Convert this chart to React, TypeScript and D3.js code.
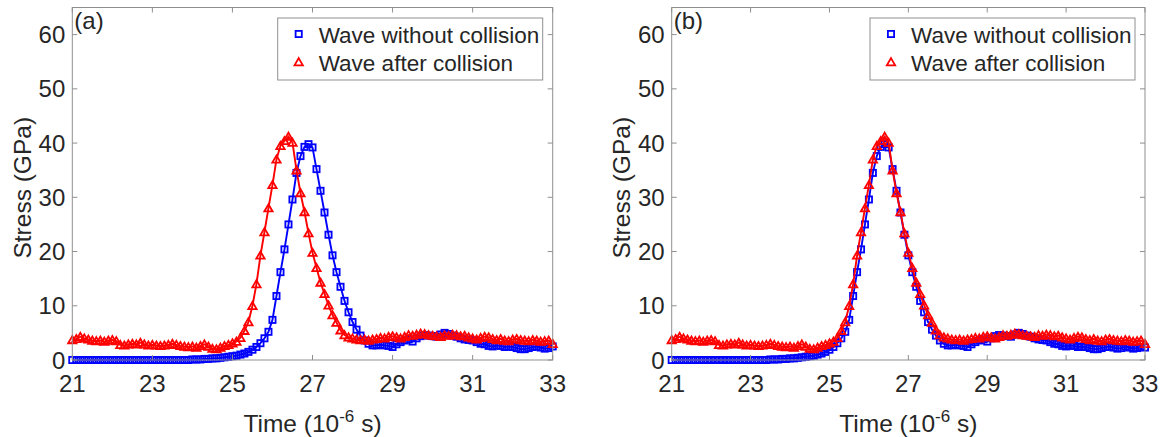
import React from "react";
import * as d3 from "d3";

const TIME = [
  21.0, 21.1, 21.2, 21.3, 21.4, 21.5, 21.6, 21.7, 21.8, 21.9,
  22.0, 22.1, 22.2, 22.3, 22.4, 22.5, 22.6, 22.7, 22.8, 22.9,
  23.0, 23.1, 23.2, 23.3, 23.4, 23.5, 23.6, 23.7, 23.8, 23.9,
  24.0, 24.1, 24.2, 24.3, 24.4, 24.5, 24.6, 24.7, 24.8, 24.9,
  25.0, 25.1, 25.2, 25.3, 25.4, 25.5, 25.6, 25.7, 25.8, 25.9,
  26.0, 26.1, 26.2, 26.3, 26.4, 26.5, 26.6, 26.7, 26.8, 26.9,
  27.0, 27.1, 27.2, 27.3, 27.4, 27.5, 27.6, 27.7, 27.8, 27.9,
  28.0, 28.1, 28.2, 28.3, 28.4, 28.5, 28.6, 28.7, 28.8, 28.9,
  29.0, 29.1, 29.2, 29.3, 29.4, 29.5, 29.6, 29.7, 29.8, 29.9,
  30.0, 30.1, 30.2, 30.3, 30.4, 30.5, 30.6, 30.7, 30.8, 30.9,
  31.0, 31.1, 31.2, 31.3, 31.4, 31.5, 31.6, 31.7, 31.8, 31.9,
  32.0, 32.1, 32.2, 32.3, 32.4, 32.5, 32.6, 32.7, 32.8, 32.9,
  33.0,
];

// Panel (a): wave without collision
const BLUE_A = [
  0, 0, 0, 0, 0, 0, 0, 0, 0, 0,
  0, 0, 0, 0, 0, 0, 0, 0, 0, 0,
  0, 0, 0, 0, 0, 0, 0, 0, 0, 0,
  0.1, 0.1, 0.1, 0.2, 0.2, 0.3, 0.3, 0.4, 0.5, 0.6,
  0.7, 0.8, 1.0, 1.2, 1.5, 1.9, 2.4, 3.1, 4.0, 5.2,
  7.4, 11.8, 16.2, 20.4, 25.0, 29.6, 34.5, 37.6, 39.3, 39.8,
  39.2, 35.2, 31.2, 27.2, 23.1, 19.3, 16.2, 13.5, 10.9, 8.8,
  7.0, 5.6, 4.5, 3.6, 3.0, 2.7, 2.7, 2.8, 2.7, 2.6,
  2.4, 2.9, 3.3, 3.6, 3.8, 3.4, 4.0, 4.4, 4.6, 4.5,
  4.4, 4.3, 4.7, 5.0, 4.8, 4.5, 4.3, 4.0, 3.8, 3.7,
  3.6, 3.3, 3.0, 2.9, 2.6, 2.5, 2.7, 2.6, 2.4, 2.5,
  2.4, 2.2, 2.0, 2.0, 2.2, 2.4, 2.5, 2.3, 2.1, 2.2,
  2.5,
];

// Wave after collision (same in both panels)
const RED = [
  3.7, 3.9, 4.3, 4.0, 3.8, 3.6, 3.5, 3.6, 3.4, 3.6,
  3.7, 3.5, 2.8, 2.7, 2.9, 3.0, 2.9, 3.2, 2.9, 2.7,
  2.8, 2.7, 2.6, 2.7, 2.8, 3.0, 2.8, 2.6, 2.5, 2.4,
  2.5, 2.3, 2.6, 2.9, 2.5, 2.1, 2.0, 2.3, 2.6, 2.8,
  3.1, 3.4, 4.1, 5.4, 7.0, 10.0, 14.0, 19.3, 23.6, 28.0,
  32.3, 37.0, 39.5, 40.4, 41.2, 40.1, 35.0, 30.8, 27.3, 23.4,
  19.8, 17.0, 14.3, 12.2, 10.1, 8.3, 6.9, 5.5, 4.6, 4.2,
  4.0, 3.8, 3.7, 3.8, 3.6, 3.8, 3.9, 4.1, 4.0, 4.3,
  4.4, 4.2, 4.0, 4.3, 4.6, 4.5, 4.7, 4.9, 4.8, 4.6,
  4.5, 4.4, 4.3, 4.6, 4.5, 4.7, 4.6, 4.4, 4.5, 4.2,
  4.0, 3.8, 4.1, 4.3, 4.2, 3.9, 3.7, 3.9, 3.6, 3.5,
  3.8, 3.9, 3.7, 3.6, 3.5, 3.7, 3.6, 3.4, 3.5, 3.6,
  3.0,
];

// Panel (b): wave without collision, aligned
const BLUE_B = [
  0, 0, 0, 0, 0, 0, 0, 0, 0, 0,
  0, 0, 0, 0, 0, 0, 0, 0, 0, 0,
  0, 0, 0, 0, 0, 0.1, 0.1, 0.1, 0.2, 0.2,
  0.3, 0.3, 0.4, 0.5, 0.6, 0.7, 0.8, 1.0, 1.2, 1.5,
  1.9, 2.4, 3.1, 4.0, 5.2, 7.4, 11.8, 16.2, 20.4, 25.0,
  29.6, 34.5, 37.6, 39.3, 39.8, 39.2, 35.2, 31.2, 27.2, 23.1,
  19.3, 16.2, 13.5, 10.9, 8.8, 7.0, 5.6, 4.5, 3.6, 3.0,
  2.7, 2.7, 2.8, 2.7, 2.6, 2.4, 2.9, 3.3, 3.6, 3.8,
  3.4, 4.0, 4.4, 4.6, 4.5, 4.4, 4.3, 4.7, 5.0, 4.8,
  4.5, 4.3, 4.0, 3.8, 3.7, 3.6, 3.3, 3.0, 2.9, 2.6,
  2.5, 2.7, 2.6, 2.4, 2.5, 2.4, 2.2, 2.0, 2.0, 2.2,
  2.4, 2.5, 2.3, 2.1, 2.2, 2.5, 2.3, 2.1, 2.2, 2.4,
  2.3,
];

const X_TICKS = [21, 23, 25, 27, 29, 31, 33];
const Y_TICKS = [0, 10, 20, 30, 40, 50, 60];
const LEGEND_LABELS = ["Wave without collision", "Wave after collision"];
const PANEL_LABELS = ["(a)", "(b)"];

const FONT = "'Liberation Sans', Arial, Helvetica, sans-serif";
const TEXT = "#262626";
const AXIS = "#8f8f8f";
const BLUE = "#0000ff";
const RED_C = "#ff0000";

type PanelProps = {
  x0: number;
  x1: number;
  label: string;
  blue: number[];
  red: number[];
};

function Panel({ x0, x1, label, blue, red }: PanelProps) {
  const top = 7.5;
  const bottom = 360;
  const x = d3.scaleLinear().domain([21, 33]).range([x0, x1]);
  const y = d3.scaleLinear().domain([0, 65]).range([bottom, top]);
  const line = d3
    .line<number>()
    .x((_, i) => x(TIME[i]))
    .y((d) => y(d));
  const tri = d3.symbol().type(d3.symbolTriangle).size(30)();
  const sq = 6.2;
  const mw = 1.8;
  const tickLen = 5;
  const legW = 265;
  const legR = x1 - 10;
  const legL = legR - legW;

  return (
    <g>
      <path d={line(blue) || ""} fill="none" stroke={BLUE} strokeWidth={1.9} />
      {blue.map((v, i) => (
        <rect
          key={"b" + i}
          x={x(TIME[i]) - sq / 2}
          y={y(v) - sq / 2}
          width={sq}
          height={sq}
          fill="none"
          stroke={BLUE}
          strokeWidth={mw}
        />
      ))}
      <path d={line(red) || ""} fill="none" stroke={RED_C} strokeWidth={1.9} />
      {red.map((v, i) => (
        <path
          key={"r" + i}
          d={tri}
          transform={`translate(${x(TIME[i])},${y(v) + 0.9})`}
          fill="none"
          stroke={RED_C}
          strokeWidth={mw}
        />
      ))}

      <rect x={x0} y={top} width={x1 - x0} height={bottom - top} fill="none" stroke={AXIS} strokeWidth={1} />
      {X_TICKS.map((t) => (
        <g key={"xt" + t}>
          <line x1={x(t)} x2={x(t)} y1={bottom} y2={bottom - tickLen} stroke={AXIS} />
          <line x1={x(t)} x2={x(t)} y1={top} y2={top + tickLen} stroke={AXIS} />
          <text x={x(t)} y={392} textAnchor="middle" fontSize={24} fill={TEXT} fontFamily={FONT}>
            {t}
          </text>
        </g>
      ))}
      {Y_TICKS.map((t) => (
        <g key={"yt" + t}>
          <line x1={x0} x2={x0 + tickLen} y1={y(t)} y2={y(t)} stroke={AXIS} />
          <line x1={x1} x2={x1 - tickLen} y1={y(t)} y2={y(t)} stroke={AXIS} />
          <text x={x0 - 7} y={y(t) + 8.5} textAnchor="end" fontSize={24} fill={TEXT} fontFamily={FONT}>
            {t}
          </text>
        </g>
      ))}

      <text x={x0 + 2} y={29} fontSize={24} fill={TEXT} fontFamily={FONT}>
        {label}
      </text>

      <text x={(x0 + x1) / 2} y={432} textAnchor="middle" fontSize={24.5} fill={TEXT} fontFamily={FONT}>
        Time (10
        <tspan fontSize={17} dy={-10}>-6</tspan>
        <tspan dy={10}> s)</tspan>
      </text>
      <text
        transform={`translate(${x0 - 50},${(top + bottom) / 2 + 4}) rotate(-90)`}
        textAnchor="middle"
        fontSize={24.5}
        fill={TEXT}
        fontFamily={FONT}
        dominantBaseline="central"
      >
        Stress (GPa)
      </text>

      <rect x={legL} y={18} width={legW} height={62} fill="#fff" stroke={AXIS} strokeWidth={1} />
      <rect x={legL + 21 - sq / 2} y={34 - sq / 2} width={sq} height={sq} fill="none" stroke={BLUE} strokeWidth={mw} />
      <path d={tri} transform={`translate(${legL + 21},${62 + 0.9})`} fill="none" stroke={RED_C} strokeWidth={mw} />
      <text x={legL + 41} y={43} fontSize={22.5} fill={TEXT} fontFamily={FONT}>
        {LEGEND_LABELS[0]}
      </text>
      <text x={legL + 41} y={71} fontSize={22.5} fill={TEXT} fontFamily={FONT}>
        {LEGEND_LABELS[1]}
      </text>
    </g>
  );
}

export default function App() {
  return (
    <svg
      width={1170}
      height={437}
      style={{ position: "absolute", left: 0, top: 0, background: "#fff" }}
    >
      <rect x={0} y={0} width={1170} height={437} fill="#fff" />
      <Panel x0={72.3} x1={552.7} label={PANEL_LABELS[0]} blue={BLUE_A} red={RED} />
      <Panel x0={671.7} x1={1145} label={PANEL_LABELS[1]} blue={BLUE_B} red={RED} />
    </svg>
  );
}
